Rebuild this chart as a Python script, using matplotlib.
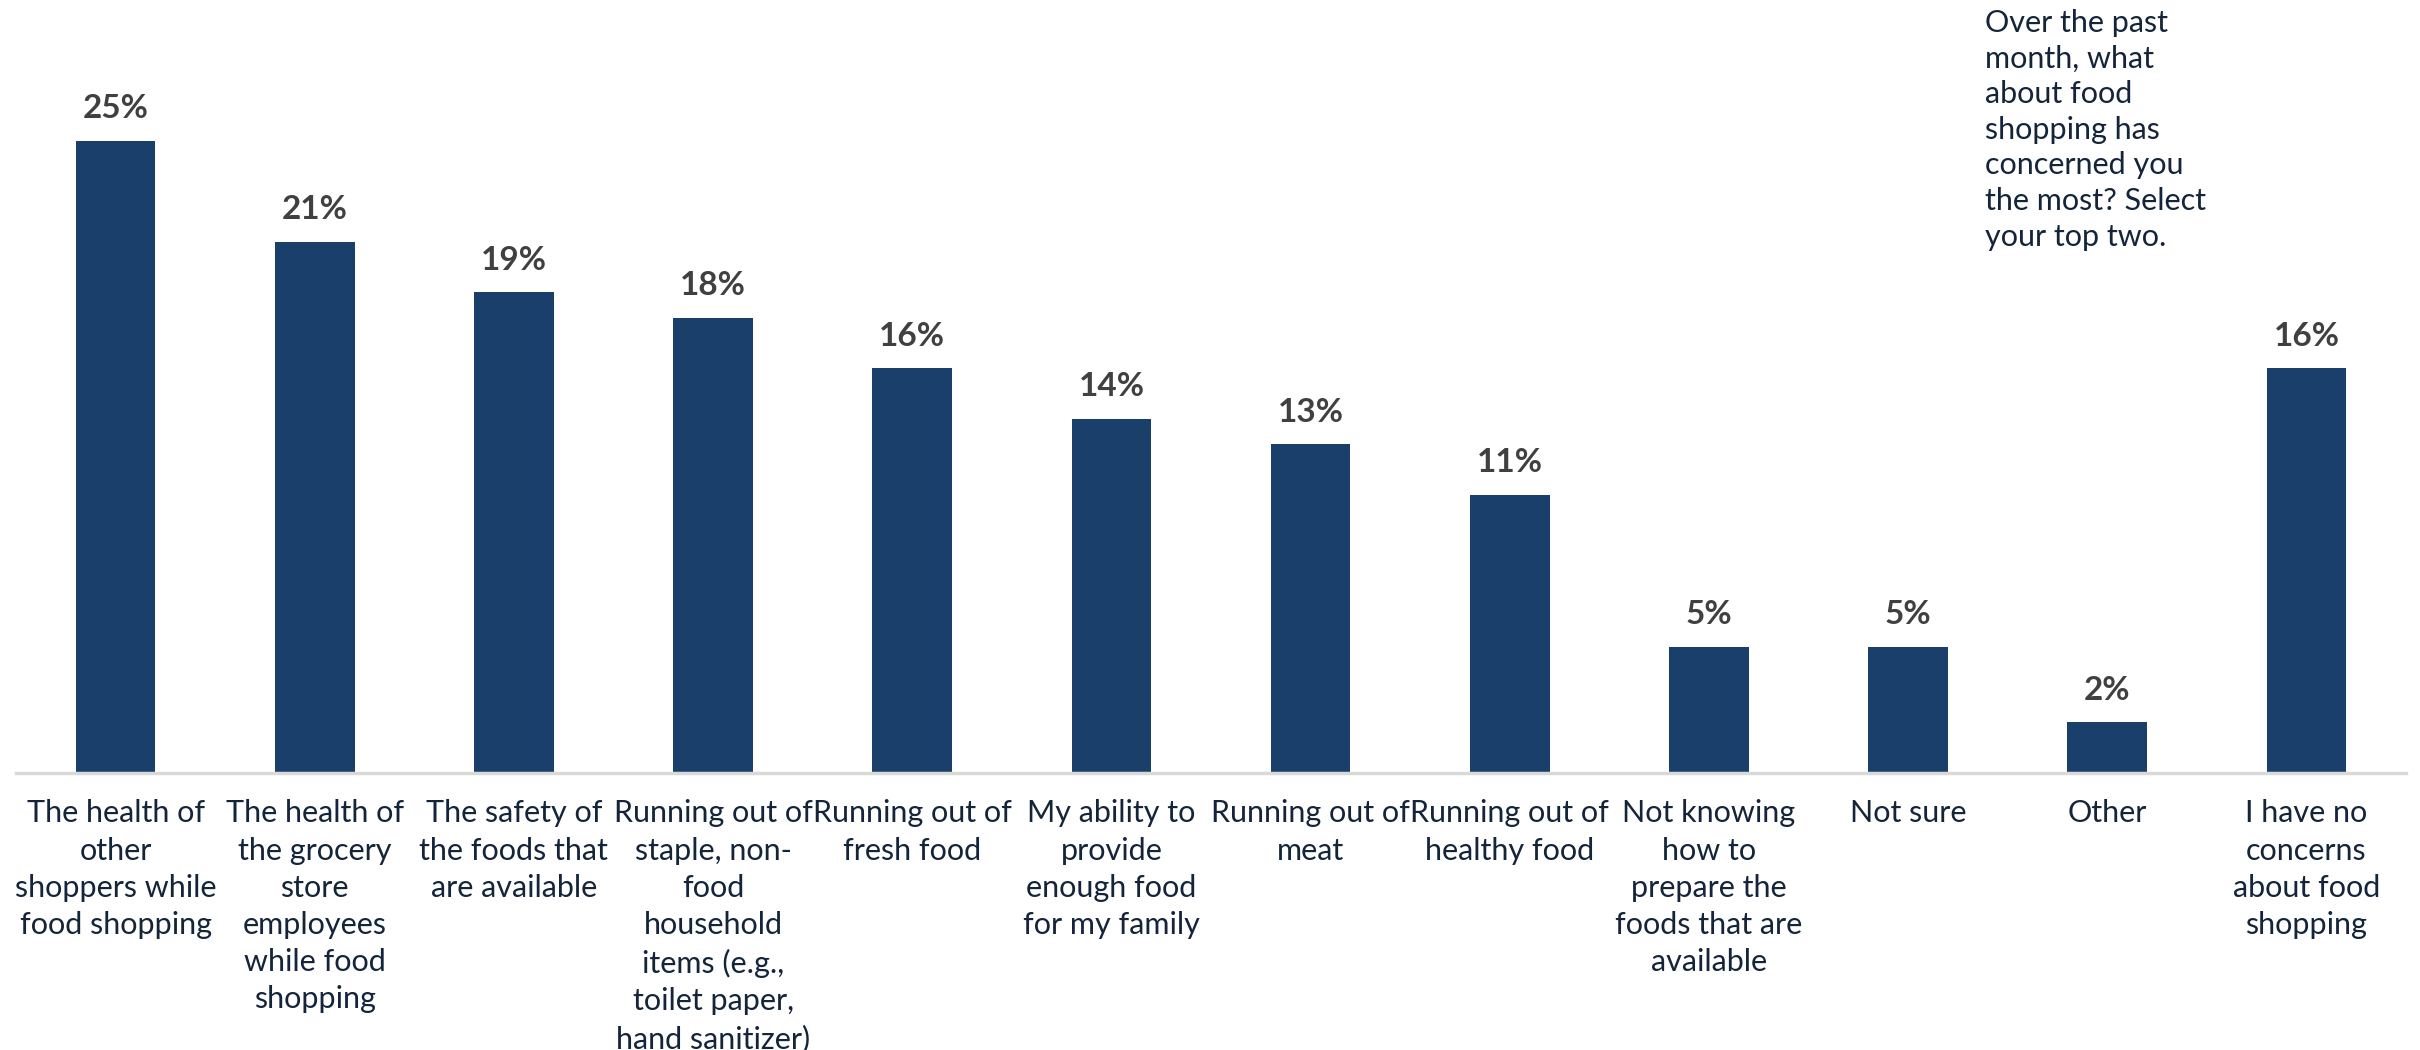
import matplotlib
matplotlib.use("Agg")
import matplotlib.pyplot as plt

categories = [
    "The health of\nother\nshoppers while\nfood shopping",
    "The health of\nthe grocery\nstore\nemployees\nwhile food\nshopping",
    "The safety of\nthe foods that\nare available",
    "Running out of\nstaple, non-\nfood\nhousehold\nitems (e.g.,\ntoilet paper,\nhand sanitizer)",
    "Running out of\nfresh food",
    "My ability to\nprovide\nenough food\nfor my family",
    "Running out of\nmeat",
    "Running out of\nhealthy food",
    "Not knowing\nhow to\nprepare the\nfoods that are\navailable",
    "Not sure",
    "Other",
    "I have no\nconcerns\nabout food\nshopping",
]
values = [25, 21, 19, 18, 16, 14, 13, 11, 5, 5, 2, 16]
value_labels = ["25%", "21%", "19%", "18%", "16%", "14%", "13%", "11%", "5%", "5%", "2%", "16%"]
note = "Over the past\nmonth, what\nabout food\nshopping has\nconcerned you\nthe most? Select\nyour top two."

W, H = 2420, 1050
fig = plt.figure(figsize=(W / 100, H / 100), dpi=100)
ax_left, ax_right = 16 / W, 2406 / W
ax_bottom = (H - 773) / H
ymax = 28
ax_h = ymax * 25.3 / H
ax = fig.add_axes([ax_left, ax_bottom, ax_right - ax_left, ax_h])

x = list(range(len(values)))
bars = ax.bar(x, values, width=0.4, color="#1a3f6b", zorder=2)
ax.set_xlim(-0.5, len(values) - 0.5)
ax.set_ylim(0, ymax)

for xi, v, lab in zip(x, values, value_labels):
    ax.annotate(lab, (xi, v), xytext=(0, 23), textcoords="offset points",
                ha="center", va="center", fontsize=24, fontweight="bold",
                color="#404040", family="Lato")

ax.set_xticks(x)
ax.set_xticklabels(categories, fontsize=22, color="#14243a", family="Lato",
                   linespacing=1.4)
ax.tick_params(axis="x", length=0, pad=19)
ax.set_yticks([])
for s in ["top", "right", "left"]:
    ax.spines[s].set_visible(False)
ax.spines["bottom"].set_color("#d9d9d9")
ax.spines["bottom"].set_linewidth(2.5)

fig.text(1985 / W, 1 - 9 / H, note, ha="left", va="top", fontsize=22,
         color="#14243a", family="Lato", linespacing=1.33)

fig.savefig("out.png", dpi=100, facecolor="white")
